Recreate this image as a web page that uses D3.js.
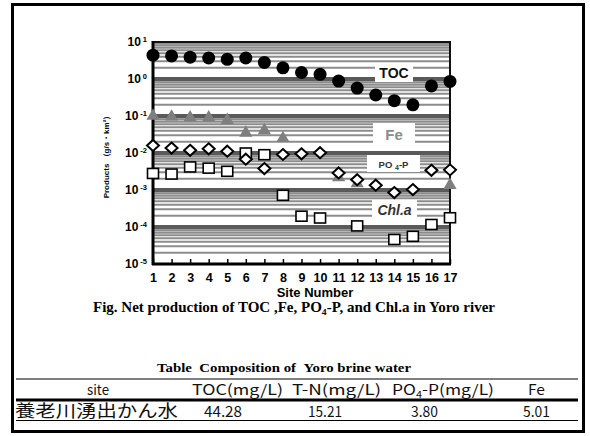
<!DOCTYPE html>
<html>
<head>
<meta charset="utf-8">
<script src="https://cdn.jsdelivr.net/npm/d3@7/dist/d3.min.js"></script>
<style>
  html, body { margin: 0; padding: 0; background: #fff; }
  svg { display: block; }
  text { white-space: pre; }
</style>
</head>
<body>
<svg id="chart" width="590" height="436"></svg>
<script>
// Site numbers along the Yoro river
const sites = [1, 2, 3, 4, 5, 6, 7, 8, 9, 10, 11, 12, 13, 14, 15, 16, 17];

// Net production (g/s・km²) per site; null = not measured
const tocValues  = [4.4, 4.2, 3.9, 3.7, 3.4, 3.7, 2.8, 2.0, 1.5, 1.34, 0.88, 0.57, 0.37, 0.26, 0.20, 0.65, 0.86];
const feValues   = [0.10, 0.095, 0.09, 0.09, 0.077, 0.035, 0.041, 0.025, null, null, 0.0022, 0.0015, null, null, null, null, 0.00135];
const po4Values  = [0.016, 0.0136, 0.0118, 0.013, 0.0112, 0.0068, 0.0038, 0.0091, 0.0095, 0.0102, 0.0029, 0.0019, 0.00135, 0.00085, 0.00103, 0.0034, 0.0035];
const chlaValues = [0.0028, 0.0027, 0.0042, 0.0039, 0.0032, 0.0100, 0.0090, 0.00072, 0.000196, 0.000175, null, 0.000107, null, 0.000046, 0.000056, 0.000117, 0.000178];

// Y axis decades
const yExponents = [1, 0, -1, -2, -3, -4, -5];

// Composition table
const tableHeaders = ["site", "TOC(mg/L)", "T-N(mg/L)", "PO4-P(mg/L)", "Fe"];
const tableRow = ["養老川湧出かん水", "44.28", "15.21", "3.80", "5.01"];

const svg = d3.select("#chart");

// outer frame
svg.append("rect")
  .attr("x", 12.5).attr("y", 4.5).attr("width", 571).attr("height", 427)
  .attr("fill", "none").attr("stroke", "#000").attr("stroke-width", 3);

const plot = { left: 153, right: 450, top: 42, bottom: 264 };
const x = d3.scaleLinear().domain([1, 17]).range([plot.left, plot.right]);
const y = d3.scaleLog().domain([1e-5, 10]).range([plot.bottom, plot.top]);

// striped background: minor grid lines at every 2..9 x 10^n, heavier at decades
const grid = svg.append("g");
for (let e = -5; e < 1; e++) {
  for (let k = 2; k <= 9; k++) {
    const v = k * Math.pow(10, e);
    grid.append("line")
      .attr("x1", plot.left).attr("x2", plot.right)
      .attr("y1", y(v)).attr("y2", y(v))
      .attr("stroke", "#8c8c8c").attr("stroke-width", 2);
  }
}
for (let e = -4; e <= 0; e++) {
  const v = Math.pow(10, e);
  grid.append("line")
    .attr("x1", plot.left).attr("x2", plot.right)
    .attr("y1", y(v)).attr("y2", y(v))
    .attr("stroke", "#5a5a5a").attr("stroke-width", 4);
}

// plot box
svg.append("rect")
  .attr("x", plot.left).attr("y", plot.top)
  .attr("width", plot.right - plot.left).attr("height", plot.bottom - plot.top)
  .attr("fill", "none").attr("stroke", "#111").attr("stroke-width", 2);
svg.append("line")
  .attr("x1", plot.left).attr("x2", plot.left)
  .attr("y1", plot.top - 1).attr("y2", plot.bottom + 1)
  .attr("stroke", "#000").attr("stroke-width", 3);
svg.append("line")
  .attr("x1", plot.left - 1).attr("x2", plot.right + 1)
  .attr("y1", plot.bottom).attr("y2", plot.bottom)
  .attr("stroke", "#000").attr("stroke-width", 3);

// x axis: inward ticks and bold site numbers
const xAxis = svg.append("g").attr("transform", `translate(0,${plot.bottom})`)
  .call(d3.axisBottom(x).tickValues(sites).tickSizeInner(-5).tickSizeOuter(0).tickPadding(9).tickFormat(d3.format("d")));
xAxis.select(".domain").remove();
xAxis.selectAll("line").attr("stroke", "#000").attr("stroke-width", 1.5);
xAxis.selectAll("text")
  .attr("font-family", "Liberation Sans, Arial, sans-serif")
  .attr("font-weight", "bold").attr("font-size", 12.5).attr("fill", "#000");

// y axis labels as 10 with superscript exponents
const yLab = svg.append("g");
yExponents.forEach(e => {
  const t = yLab.append("text")
    .attr("x", 147).attr("y", y(Math.pow(10, e)) + 4)
    .attr("text-anchor", "end")
    .attr("font-family", "Liberation Sans, Arial, sans-serif")
    .attr("font-weight", "bold").attr("font-size", 12).attr("fill", "#000");
  t.append("tspan").text("10");
  t.append("tspan").attr("dx", 2).attr("dy", -4).attr("font-size", 7.5).text(e === 1 ? "1" : e === 0 ? "0" : "-" + (-e));
});

// y axis title
svg.append("text")
  .attr("transform", "translate(109,155) rotate(-90)")
  .attr("text-anchor", "middle")
  .attr("font-family", "Liberation Sans, Arial, sans-serif")
  .attr("font-weight", "bold").attr("font-size", 8).attr("fill", "#000")
  .text("Products （g/s・km²）");

// series markers
const pts = vals => sites.map((s, i) => ({ s, v: vals[i] })).filter(d => d.v != null);

svg.append("g").selectAll("path").data(pts(feValues)).join("path")
  .attr("transform", d => `translate(${x(d.s)},${y(d.v)})`)
  .attr("d", d3.symbol(d3.symbolTriangle, 75)())
  .attr("fill", "#7f7f7f");

svg.append("g").selectAll("rect").data(pts(chlaValues)).join("rect")
  .attr("x", d => x(d.s) - 5.5).attr("y", d => y(d.v) - 5)
  .attr("width", 11).attr("height", 10)
  .attr("fill", "#fff").attr("stroke", "#000").attr("stroke-width", 1.6);

svg.append("g").selectAll("path").data(pts(po4Values)).join("path")
  .attr("transform", d => `translate(${x(d.s)},${y(d.v)})`)
  .attr("d", "M0,-5.5L6,0L0,5.5L-6,0Z")
  .attr("fill", "#fff").attr("stroke", "#000").attr("stroke-width", 2);

svg.append("g").selectAll("circle").data(pts(tocValues)).join("circle")
  .attr("cx", d => x(d.s)).attr("cy", d => y(d.v)).attr("r", 6.5)
  .attr("fill", "#000");

// series name tags on white boxes
function tag(bx, by, bw, bh) {
  svg.append("rect").attr("x", bx).attr("y", by).attr("width", bw).attr("height", bh).attr("fill", "#fff");
  return svg.append("text")
    .attr("x", bx + bw / 2).attr("y", by + bh / 2)
    .attr("text-anchor", "middle").attr("dominant-baseline", "central")
    .attr("font-family", "Liberation Sans, Arial, sans-serif")
    .attr("font-weight", "bold");
}
tag(375, 63, 38, 19).attr("font-size", 14).attr("fill", "#111").text("TOC");
tag(373, 123, 42, 22).attr("font-size", 15).attr("fill", "#8c8c8c").text("Fe");
const po = tag(367, 155, 53, 17).attr("font-size", 9.5).attr("fill", "#333");
po.append("tspan").text("PO ");
po.append("tspan").attr("font-size", 7).attr("dy", 3).text("4");
po.append("tspan").attr("dy", -3).text("-P");
tag(372, 200, 45, 20).attr("font-size", 14).attr("font-style", "italic").attr("fill", "#333").text("Chl.a");

// axis title and caption
svg.append("text").attr("x", 315).attr("y", 297).attr("text-anchor", "middle")
  .attr("font-family", "Liberation Sans, Arial, sans-serif")
  .attr("font-weight", "bold").attr("font-size", 13).text("Site Number");

const cap = svg.append("text").attr("x", 93).attr("y", 312)
  .attr("font-family", "Liberation Serif, Times New Roman, serif")
  .attr("font-weight", "bold").attr("font-size", 14)
  .attr("textLength", 402).attr("lengthAdjust", "spacingAndGlyphs");
cap.append("tspan").text("Fig. Net production of TOC ,Fe, PO");
cap.append("tspan").attr("font-size", 9).attr("dy", 3).text("4");
cap.append("tspan").attr("dy", -3).text("-P, and Chl.a in Yoro river");

// table
svg.append("text").attr("x", 157).attr("y", 372)
  .attr("font-family", "Liberation Serif, Times New Roman, serif")
  .attr("font-weight", "bold").attr("font-size", 12.5)
  .attr("textLength", 254).attr("lengthAdjust", "spacingAndGlyphs")
  .text("Table\u00a0\u00a0Composition of\u00a0\u00a0Yoro brine water");

const tl = (yy, w) => svg.append("line").attr("x1", 16).attr("x2", 578).attr("y1", yy).attr("y2", yy)
  .attr("stroke", "#000").attr("stroke-width", w);
tl(379, 1.2);
tl(400, 3);
tl(420.5, 1.2);

const cjk = "Noto Sans CJK JP, sans-serif";
// [left edge, width] of each header and value
const headerBox = [[87, 22], [192, 91], [292, 89], [392, 102], [528, 17]];
const rowBox = [[15, 163], [204, 38], [308, 34], [411, 27], [523, 27]];
tableHeaders.forEach((h, i) => {
  const t = svg.append("text").attr("x", headerBox[i][0]).attr("y", 395)
    .attr("font-family", cjk).attr("font-size", 14.5).attr("fill", "#111")
    .attr("textLength", headerBox[i][1]).attr("lengthAdjust", "spacingAndGlyphs");
  if (h.startsWith("PO4")) {
    t.append("tspan").text("PO");
    t.append("tspan").attr("font-size", 9).attr("dy", 3).text("4");
    t.append("tspan").attr("dy", -3).text("-P(mg/L)");
  } else {
    t.text(h);
  }
});
tableRow.forEach((v, i) => {
  svg.append("text").attr("x", rowBox[i][0]).attr("y", 417)
    .attr("font-family", cjk).attr("font-size", i === 0 ? 17 : 14.5).attr("fill", "#111")
    .attr("textLength", rowBox[i][1]).attr("lengthAdjust", "spacingAndGlyphs")
    .text(v);
});
</script>
</body>
</html>
